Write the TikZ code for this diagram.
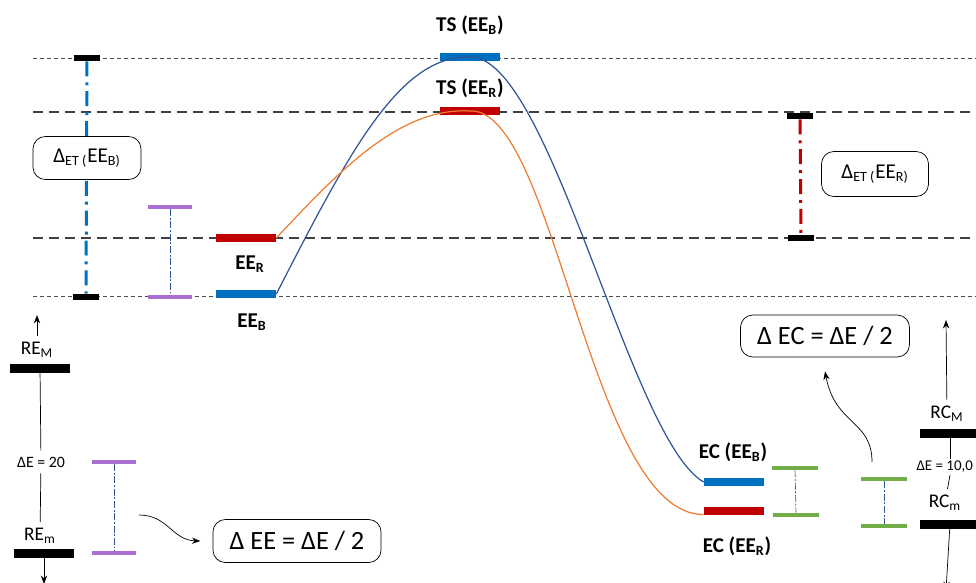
\documentclass[tikz,border=0pt]{standalone}
\usepackage{fontspec}
\setmainfont{Carlito}
\usetikzlibrary{
	arrows.meta,
	positioning,
	calc
}
\usepackage{xcolor}
\definecolor{barblue}{RGB}{0,112,192}
\definecolor{barred}{RGB}{192,0,0}
\definecolor{curveblue}{RGB}{47,85,151}
\definecolor{curveorange}{RGB}{237,125,49}
\definecolor{lilac}{RGB}{169,110,210}
\definecolor{leaf}{RGB}{112,173,71}

\begin{document}
\begin{tikzpicture}[
			x=0.02cm,y=-0.02cm,
			>=Stealth,
			bar/.style={rectangle,inner sep=0pt,minimum width=1.2cm,minimum height=0.16cm},
			tick/.style={rectangle,fill=black,inner sep=0pt,minimum width=0.52cm,minimum height=0.12cm},
			level/.style={rectangle,fill=black,inner sep=0pt,minimum width=1.2cm,minimum height=0.18cm},
			span/.style={rectangle,inner sep=0pt,minimum width=0.9cm,minimum height=0.07cm},
			lab/.style={font=\bfseries\fontsize{12}{14}\selectfont},
			plain/.style={font=\fontsize{11}{13}\selectfont},
			note/.style={draw,rounded corners=7pt,fill=white,inner sep=0pt},
			finedash/.style={black!70,dash pattern=on 2.3pt off 1.7pt},
			longdash/.style={black!75,line width=0.7pt,dash pattern=on 5.7pt off 3.4pt},
			etline/.style={line width=1.7pt,dash pattern=on 8.5pt off 3.4pt on 1.7pt off 3.4pt},
			iline/.style={curveblue,line width=0.4pt,dash pattern=on 4pt off 1pt on 1pt off 1pt}
			]
			\clip (0,0) rectangle (976,582);
			
			% Reference levels
			\draw[finedash] (33,58) -- (976,58);
			\draw[longdash] (33,112) -- (976,112);
			\draw[longdash] (33,238) -- (976,238);
			\draw[finedash] (33,296) -- (976,296);
			
			% Energy bars
			\node[bar,fill=barblue] (eeb) at (246,294){};
			\node[bar,fill=barred] (eer) at (246,238){};
			\node[bar,fill=barblue] (tsb) at (470,57){};
			\node[bar,fill=barred] (tsr) at (470,111){};
			\node[bar,fill=barblue] (ecb) at (734,482){};
			\node[bar,fill=barred] (ecr) at (734,511){};
			
			% Reaction paths
			\draw[curveblue,line width=0.7pt] (eeb.east) .. controls (350,150) and (400,55) .. (tsb.center)
				.. controls (550,55) and (630,440) .. (ecb.west);
			\draw[curveorange,line width=0.7pt] (eer.east) .. controls (340,170) and (400,107) .. (tsr.center)
				.. controls (555,107) and (590,515) .. ([yshift=-2pt]ecr.west);
			
			% Bar labels
			\node[lab] (tsblab) at (470,25){TS (EE\textsubscript{B})};
			\node[lab] (tsrlab) at (470,88){TS (EE\textsubscript{R})};
			\node[lab] (eerlab) at (250,264){EE\textsubscript{R}};
			\node[lab] (eeblab) at (252,322){EE\textsubscript{B}};
			\node[lab] (ecblab) at (733,452){EC (EE\textsubscript{B})};
			\node[lab] (ecrlab) at (737,546){EC (EE\textsubscript{R})};
			
			% Activation gaps
			\node[tick] (lbt) at (87,58){};
			\node[tick] (lbb) at (86,297){};
			\draw[etline,barblue] (lbt) -- (lbb);
			\node[note,minimum width=2.16cm,minimum height=0.86cm,font=\fontsize{12}{14}\selectfont] (etb) at (87,158)
				{Δ\textsubscript{ET (}EE\textsubscript{B)}};
			
			\node[tick] (rbt) at (800,116){};
			\node[tick] (rbb) at (801,238){};
			\draw[etline,barred] (rbt) -- (rbb);
			\node[note,minimum width=2.14cm,minimum height=0.9cm,font=\fontsize{12}{14}\selectfont] (etr) at (875,174)
				{Δ\textsubscript{ET (}EE\textsubscript{R)}};
			
			% Half ranges
			\node[span,fill=lilac] (pu1) at (170,207){};
			\node[span,fill=lilac] (pu2) at (170,297){};
			\draw[iline] (pu1) -- (pu2);
			\node[span,fill=lilac] (pl1) at (114,462){};
			\node[span,fill=lilac] (pl2) at (114,553){};
			\draw[iline] (pl1) -- (pl2);
			\node[span,fill=leaf,minimum width=0.92cm,minimum height=0.08cm] (g1) at (795,468){};
			\node[span,fill=leaf,minimum width=0.92cm,minimum height=0.08cm] (g2) at (796,515){};
			\draw[iline] (g1) -- (g2);
			\node[span,fill=leaf,minimum width=0.92cm,minimum height=0.08cm] (g3) at (884,479){};
			\node[span,fill=leaf,minimum width=0.92cm,minimum height=0.08cm] (g4) at (884,526){};
			\draw[iline] (g3) -- (g4);
			
			% Range of reactants
			\node[level] (reM) at (40,368){};
			\node[plain] (reMlab) at (37,350){RE\textsubscript{M}};
			\coordinate (reup) at (37,315);
			\draw[->] (reMlab) -- (reup);
			\node[font=\fontsize{9}{10}\selectfont] (de20) at (41,462){ΔE = 20};
			\node[level] (rem) at (44,553){};
			\node[plain] (remlab) at (40,536){RE\textsubscript{m}};
			\coordinate (redown) at (44,584);
			\draw (reM) -- (de20);
			\draw (de20) -- (remlab);
			\draw[->] (rem) -- (redown);
			
			% Range of products
			\node[level] (rcM) at (950,433){};
			\node[plain] (rcMlab) at (947,414){RC\textsubscript{M}};
			\coordinate (rcup) at (946,320);
			\draw[->] (rcMlab) -- (rcup);
			\node[font=\fontsize{8.5}{10}\selectfont,anchor=east,inner sep=1pt] (de10) at (975,467){ΔE = 10,0};
			\node[level] (rcm) at (950,524){};
			\node[plain] (rcmlab) at (945,503){RC\textsubscript{m}};
			\coordinate (rcdown) at (946,590);
			\draw (rcM) -- (rcM |- de10.north);
			\draw (rcm |- de10.south) -- (rcmlab);
			\draw[->] (rcm) -- (rcdown);
			
			% Half range notes
			\node[note,minimum width=3.36cm,minimum height=0.86cm,font=\fontsize{15}{17}\selectfont] (eebox) at (297,541)
				{Δ EE = ΔE / 2};
			\node[note,minimum width=3.38cm,minimum height=0.84cm,font=\fontsize{15}{17}\selectfont] (ecbox) at (825,336)
				{Δ EC = ΔE / 2};
			\coordinate (ca1) at (139,515);
			\draw[->] (ca1) .. controls (168,515) and (172,540) .. ([xshift=-7pt]eebox.west);
			\coordinate (ca2) at (872,462);
			\draw[->] (ca2) .. controls (872,420) and (835,425) .. ([yshift=-8pt]ecbox.south);
			
		\end{tikzpicture}
\end{document}
